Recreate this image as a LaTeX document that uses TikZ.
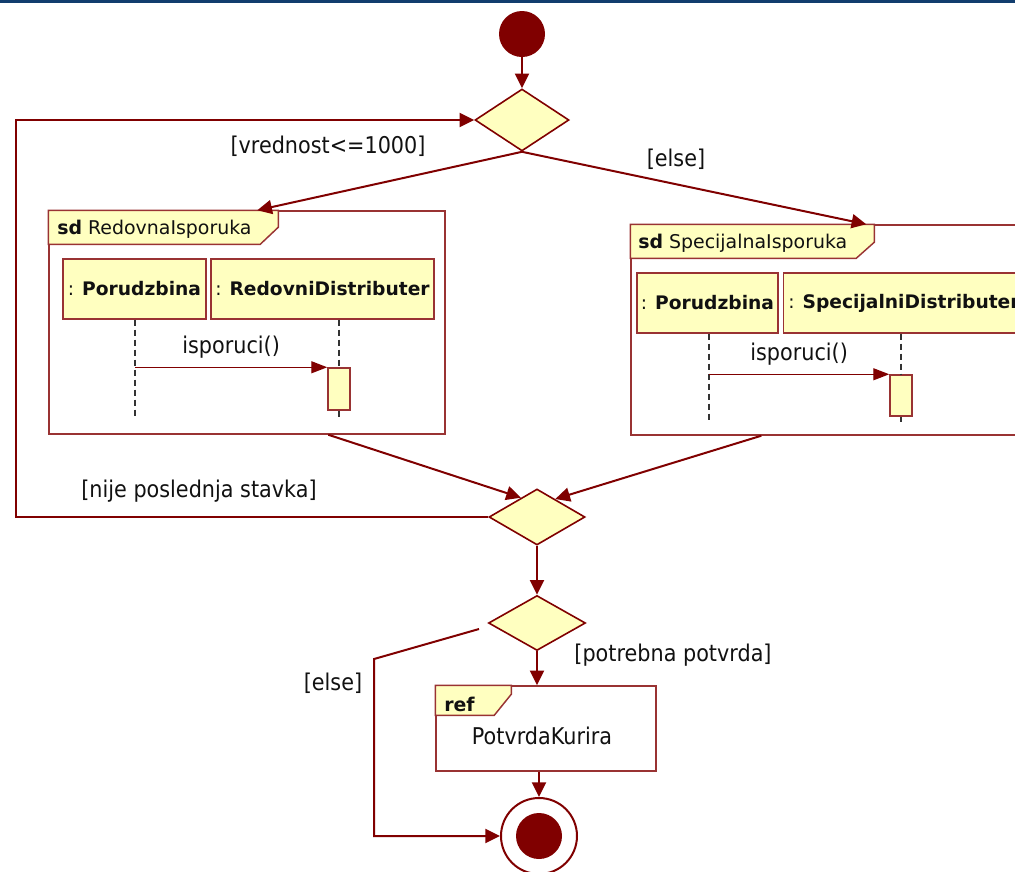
\documentclass[tikz,border=0pt]{standalone}
\usepackage{fontspec}
\setmainfont{DejaVu Sans}
\newfontfamily\narrowfont[FakeStretch=0.9]{DejaVu Sans}
\usetikzlibrary{arrows.meta,shapes.geometric,calc}
\definecolor{maroon}{HTML}{800000}
\definecolor{fillY}{HTML}{FFFFC0}
\definecolor{frameC}{HTML}{993333}
\definecolor{navy}{HTML}{123D6E}
\definecolor{txtC}{HTML}{111111}
\begin{document}
\begin{tikzpicture}[x=0.75pt,y=-0.75pt,
  txt/.style={font=\narrowfont\fontsize{17.3}{20}\selectfont, text=txtC, inner sep=0pt},
  ftxt/.style={font=\fontsize{14.2}{17}\selectfont, text=txtC, inner sep=0pt},
  conn/.style={draw=maroon, line width=1.5pt, -{Triangle[length=11pt,width=10.5pt]}},
  msg/.style={draw=maroon, line width=1pt, -{Triangle[length=12pt,width=9pt]}},
  dec/.style={diamond, draw=maroon, fill=fillY, line width=1.2pt, inner sep=0pt},
  frm/.style={rectangle, draw=frameC, line width=1.1pt, inner sep=0pt},
  tabf/.style={draw=frameC, fill=fillY, line width=1.1pt},
  lbox/.style={rectangle, draw=frameC, fill=fillY, line width=1.1pt, inner sep=0pt, minimum height=45pt, font=\fontsize{14}{17}\selectfont, text=txtC},
  act/.style={rectangle, draw=frameC, fill=fillY, line width=1.1pt, inner sep=0pt, minimum width=16.5pt},
  lifel/.style={draw=black!80, line width=0.8pt, dash pattern=on 5pt off 2.5pt},
]
\useasboundingbox (0,0) rectangle (1015,872);
\clip (0,0) rectangle (1015,872);
\fill[navy] (0,0) rectangle (1015,2.5);

% start
\node[circle, fill=maroon, minimum size=34.5pt, inner sep=0pt] (start) at (522,34) {};
% decisions
\node[dec, minimum width=70.5pt, minimum height=46.5pt] (d1) at (522,120) {};
\node[dec, minimum width=72pt, minimum height=42pt] (d2) at (537,517) {};
\node[dec, minimum width=72.75pt, minimum height=41.25pt] (d3) at (537,623) {};

% left frame
\node[frm, minimum width=297pt, minimum height=167.25pt] (fL) at (247,322.5) {};
\draw[tabf] (fL.north west) -- ++(230,0) -- ++(0,17) -- ++(-18,17) -- ++(-212,0) -- cycle;
\node[ftxt, anchor=west] (tL) at (57,229) {\textbf{sd} RedovnaIsporuka};
\node[lbox, minimum width=107.25pt] (L1) at (134.5,289) {: \textbf{Porudzbina}};
\node[lbox, minimum width=167.25pt] (L2) at (322.5,289) {: \textbf{RedovniDistributer}};
\node[act, minimum height=31.5pt] (A1) at (339,389) {};
\coordinate (L1e) at (135,418);
\coordinate (L2e) at (339,418);
\draw[lifel] (L1.south -| L1e) -- (L1e);
\draw[lifel] (L2.south -| L2e) -- (A1.north);
\draw[lifel] (A1.south) -- (L2e);
\draw[msg] (L1e |- A1.north west) -- node[txt, above=6pt] (mL) {isporuci()} (A1.north west);

% right frame
\node[frm, minimum width=321.75pt, minimum height=157.5pt] (fR) at (845.5,330) {};
\draw[tabf] (fR.north west) -- ++(244,0) -- ++(0,18) -- ++(-18,16) -- ++(-226,0) -- cycle;
\node[ftxt, anchor=west] (tR) at (638,243) {\textbf{sd} SpecijalnaIsporuka};
\node[lbox, minimum width=105.75pt] (R1) at (707.5,303) {: \textbf{Porudzbina}};
\node[lbox, anchor=west, inner xsep=3.5pt] (R2) at (783,303) {: \textbf{SpecijalniDistributer}};
\node[act, minimum height=30.75pt] (A2) at (901,395.5) {};
\coordinate (R1e) at (709,422);
\coordinate (R2e) at (901,422);
\draw[lifel] (R1.south -| R1e) -- (R1e);
\draw[lifel] (R2.south -| R2e) -- (A2.north);
\draw[lifel] (A2.south) -- (R2e);
\draw[msg] (R1e |- A2.north west) -- node[txt, above=6pt] (mR) {isporuci()} (A2.north west);

% ref
\node[frm, minimum width=165pt, minimum height=63.75pt] (ref) at (546,728.5) {};
\draw[tabf] (ref.north west) -- ++(76,0) -- ++(0,9) -- ++(-17,21) -- ++(-59,0) -- cycle;
\node[ftxt, anchor=west] (refl) at (444,704) {\textbf{ref}};
\node[txt] (refn) at (542,736) {PotvrdaKurira};

% final
\node[circle, draw=maroon, fill=white, line width=1.5pt, minimum size=57pt, inner sep=0pt] (F) at (539,836) {};
\node[circle, fill=maroon, minimum size=34.5pt, inner sep=0pt] (Fin) at (539,836) {};

% connectors
\draw[conn] (start) -- (d1.north);
\coordinate (loopTop) at (16,120);
\draw[conn] (d2.west) -| (loopTop) -- (d1.west);
\draw[conn] (d1.south) -- ([xshift=156.75pt]fL.north west);
\draw[conn] (d1.south) -- ([xshift=177pt]fR.north west);
\draw[conn] ([xshift=210pt]fL.south west) -- ($(d2.north)!0.33!(d2.west)$);
\draw[conn] ([xshift=98.25pt]fR.south west) -- ($(d2.north)!0.375!(d2.east)$);
\draw[conn] (d2.south) -- (d3.north);
\draw[conn] (d3.south) -- (d3.south |- ref.north);
\draw[conn] (F.north |- ref.south) -- (F.north);
\coordinate (elseS) at (479,629);
\coordinate (elseB) at (374,659);
\draw[conn] (elseS) -- (elseB) |- (F.west);

% guard labels
\node[txt] (g1) at (328,146) {[vrednost<=1000]};
\node[txt] (g2) at (676,159) {[else]};
\node[txt] (g3) at (199,491) {[nije poslednja stavka]};
\node[txt] (g4) at (333,683) {[else]};
\node[txt] (g5) at (673,655) {[potrebna potvrda]};
\end{tikzpicture}
\end{document}
